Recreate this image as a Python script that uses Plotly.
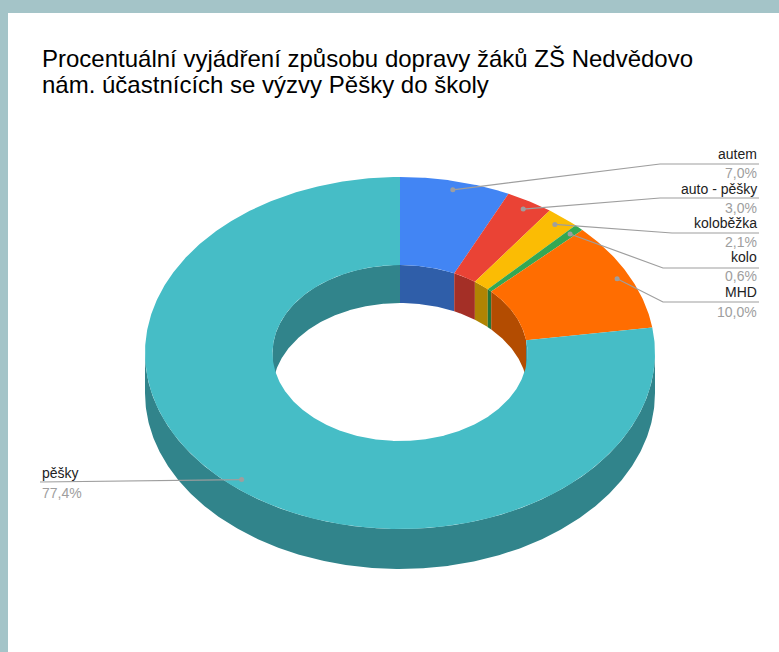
import numpy as np
import plotly.graph_objects as go

# ---------------- data ----------------
categories = ["autem", "auto - pěšky", "koloběžka", "kolo", "MHD", "pěšky"]
values = [7.0, 3.0, 2.1, 0.6, 10.0, 77.4]
top_colors = ["#4285f4", "#ea4335", "#fbbc04", "#34a853", "#ff6d01", "#46bdc6"]
side_colors = ["#2f5ea9", "#a42f26", "#b08403", "#24763a", "#b34c01", "#31848b"]
title_lines = ["Procentuální vyjádření způsobu dopravy žáků ZŠ Nedvědovo",
               "nám. účastnících se výzvy Pěšky do školy"]

# ---------------- geometry (pixel space) ----------------
W, H = 779, 652
CX, CY = 400, 353
RX, RY = 255, 176
HOLE = 0.5
DEPTH = 40
DOT_R = 0.95

FONT = "Arial, Liberation Sans, sans-serif"


def pt(theta_deg, r=1.0):
    t = np.radians(theta_deg)
    return CX + r * RX * np.sin(t), CY - r * RY * np.cos(t)


def arc(a, b, r=1.0, dy=0.0, n=None):
    if n is None:
        n = max(4, int(abs(b - a) * 2))
    th = np.linspace(a, b, n)
    x, y = pt(th, r)
    return list(x), list(y + dy)


def intersect(a, b, lo, hi):
    s, e = max(a, lo), min(b, hi)
    return (s, e) if e > s else None


total = sum(values)
bounds = []
acc = 0.0
for v in values:
    a = acc / total * 360.0
    acc += v
    b = acc / total * 360.0
    bounds.append((a, b))

fig = go.Figure()


def poly(xs, ys, color):
    fig.add_trace(go.Scatter(x=xs, y=ys, mode="lines", fill="toself",
                             fillcolor=color, line=dict(width=0, color=color),
                             hoverinfo="skip", showlegend=False))


# outer front walls (theta in [90, 270])
for (a, b), c in zip(bounds, side_colors):
    seg = intersect(a, b, 90, 270)
    if seg:
        x1, y1 = arc(seg[0], seg[1])
        x2, y2 = arc(seg[1], seg[0], dy=DEPTH)
        poly(x1 + x2, y1 + y2, c)

# inner far walls (theta in [-90, 90] or [270, 450])
for (a, b), c in zip(bounds, side_colors):
    for lo, hi in [(-90, 90), (270, 450)]:
        seg = intersect(a, b, lo, hi)
        if seg:
            x1, y1 = arc(seg[0], seg[1], r=HOLE)
            x2, y2 = arc(seg[1], seg[0], r=HOLE, dy=DEPTH * 0.95)
            poly(x1 + x2, y1 + y2, c)

# top face ring sectors
for (a, b), c in zip(bounds, top_colors):
    x1, y1 = arc(a, b)
    x2, y2 = arc(b, a, r=HOLE)
    poly(x1 + x2, y1 + y2, c)

# ---------------- labels with leader lines ----------------
LINE_COLOR = "#9e9e9e"
# layout positions of labels (name y, value y, line y, line start x)
right_layout = {
    "autem": (154, 173, 164, 660),
    "auto - pěšky": (189, 208, 198, 660),
    "koloběžka": (223, 242, 233, 672),
    "kolo": (257, 276, 268, 663),
    "MHD": (292, 312, 302, 663),
}
LABEL_RIGHT = 759
left_layout = {"pěšky": (473, 493, 482, 40)}

annotations = []
for cat, v, (a, b) in zip(categories, values, bounds):
    mx, my = pt((a + b) / 2, DOT_R)
    pct = f"{v:.1f}".replace(".", ",") + "%"
    if cat in right_layout:
        ny, vy, ly, lx = right_layout[cat]
        xs = [float(mx), lx, LABEL_RIGHT]
        ys = [float(my), ly, ly]
        anchor, tx = "right", LABEL_RIGHT
    else:
        ny, vy, ly, lx = left_layout[cat]
        xs = [lx, float(mx)]
        ys = [ly, float(my)]
        anchor, tx = "left", lx
    fig.add_trace(go.Scatter(x=xs, y=ys, mode="lines",
                             line=dict(color=LINE_COLOR, width=1.2),
                             hoverinfo="skip", showlegend=False))
    fig.add_trace(go.Scatter(x=[float(mx)], y=[float(my)], mode="markers",
                             marker=dict(color=LINE_COLOR, size=5),
                             hoverinfo="skip", showlegend=False))
    annotations.append(dict(x=tx, y=ny, xref="x", yref="y", text=cat,
                            showarrow=False, xanchor=anchor, yanchor="middle",
                            font=dict(family=FONT, size=14, color="#222222")))
    annotations.append(dict(x=tx, y=vy, xref="x", yref="y", text=pct,
                            showarrow=False, xanchor=anchor, yanchor="middle",
                            font=dict(family=FONT, size=14, color="#9e9e9e")))

for i, line in enumerate(title_lines):
    annotations.append(dict(x=40, y=58 + 26 * i, xref="x", yref="y", text=line,
                            showarrow=False, xanchor="left", yanchor="middle",
                            font=dict(family=FONT, size=24, color="#000000")))

fig.update_layout(
    width=W, height=H,
    margin=dict(l=8, t=13, r=0, b=0),
    paper_bgcolor="#a4c4c8",
    plot_bgcolor="#ffffff",
    xaxis=dict(range=[8, W], visible=False, fixedrange=True),
    yaxis=dict(range=[H, 13], visible=False, fixedrange=True),
    annotations=annotations,
    showlegend=False,
)

fig.write_html("out.html", config={"displayModeBar": False},
               post_script="document.body.style.margin='0px';document.body.style.overflow='hidden';")
